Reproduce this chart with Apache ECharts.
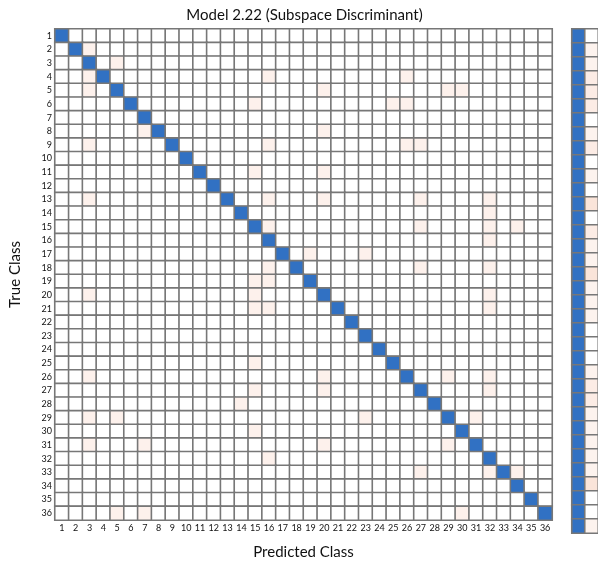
<!DOCTYPE html>
<html><head><meta charset="utf-8">
<script src="https://cdn.jsdelivr.net/npm/echarts@6/dist/echarts.min.js"></script>
<style>html,body{margin:0;padding:0;background:#fff}#c{width:598px;height:565px}</style>
</head><body><div id="c"></div>
<script>
// ---- data ----
const classLabels = ['1','2','3','4','5','6','7','8','9','10','11','12','13','14','15','16','17','18',
  '19','20','21','22','23','24','25','26','27','28','29','30','31','32','33','34','35','36'];
// correct predictions per class (diagonal)
const diagonalValues = [100,99,99,98,98,98,100,98,98,100,99,100,96,100,98,99,98,97,
  99,98,98,100,100,100,99,98,98,99,98,99,98,99,97,100,100,98];
// misclassified cells: [true class, predicted class, count]
const errorCells = [
  [2,3,1],[3,5,1],[4,3,1],[4,16,1],[4,26,1],[5,3,1],[5,20,1],[5,29,1],[5,30,1],
  [6,15,1],[6,25,1],[6,26,1],[8,7,1],[8,20,1],[9,3,1],[9,16,1],[9,26,1],[9,27,1],
  [11,15,1],[11,20,1],[13,3,1],[13,16,1],[13,20,1],[13,27,1],[13,32,1],[14,32,1],
  [15,16,1],[15,27,1],[15,32,1],[15,34,1],[16,32,1],[17,19,1],[17,23,1],
  [18,16,1],[18,27,1],[18,32,1],[19,15,1],[19,16,1],[20,3,1],[20,15,1],[20,32,1],
  [21,15,1],[21,16,1],[21,32,1],[25,15,1],[26,3,1],[26,20,1],[26,29,1],[26,32,1],
  [27,15,1],[27,20,1],[27,32,1],[28,14,1],[29,3,1],[29,5,1],[29,23,1],[29,31,1],
  [30,15,1],[31,3,1],[31,7,1],[31,20,1],[31,29,1],[32,16,1],
  [33,27,1],[33,32,1],[33,34,1],[36,5,1],[36,7,1],[36,30,1]
];
// per-class true positive rate and false negative rate (%)
const fnrValues = [0,1,1,2,2,2,0,1,2,0,1,0,4,0,2,1,1,3,1,1,1,0,0,0,1,2,2,1,1,1,1,1,3,0,0,1];
const tprValues = [100,99,99,98,98,98,100,99,98,100,99,100,96,100,98,99,99,97,99,99,99,100,100,100,99,98,98,99,99,99,99,99,97,100,100,99];
const summaryLabels = ['TPR','FNR'];

// ---- build series data ----
const n = classLabels.length;
const lookup = {};
errorCells.forEach(e => { lookup[(e[0]-1)+'_'+(e[1]-1)] = e[2]; });
const matrixData = [];
for (let r = 0; r < n; r++) {
  for (let c = 0; c < n; c++) {
    let v = r === c ? diagonalValues[r] : (lookup[r+'_'+c] || 0);
    matrixData.push([c, r, v]);
  }
}
const stripData = [];
for (let r = 0; r < n; r++) {
  stripData.push([0, r, tprValues[r]]);
  stripData.push([1, r, fnrValues[r]]);
}

const BLUE = '#3171c3';
const FONT = 'Lato';
const chart = echarts.init(document.getElementById('c'), null, {renderer: 'canvas'});
chart.setOption({
  animation: false,
  backgroundColor: '#ffffff',
  title: {
    text: 'Model 2.22 (Subspace Discriminant)',
    left: 299.5, top: 3, textAlign: 'center',
    textStyle: {fontFamily: FONT, fontSize: 15, fontWeight: 'normal', color: '#111'}
  },
  grid: [
    {left: 47, top: 29, width: 505, height: 504},
    {left: 572, top: 29, width: 29, height: 504}
  ],
  xAxis: [
    {type: 'category', gridIndex: 0, data: classLabels, position: 'bottom',
     name: 'Predicted Class', nameLocation: 'middle', nameGap: 25,
     nameTextStyle: {fontFamily: FONT, fontSize: 15, color: '#111'},
     axisLine: {show: false}, axisTick: {show: false}, splitLine: {show: false},
     axisLabel: {interval: 0, margin: 4, fontFamily: FONT, fontSize: 9, color: '#111'}},
    {type: 'category', gridIndex: 1, data: summaryLabels, show: false}
  ],
  yAxis: [
    {type: 'category', gridIndex: 0, data: classLabels, inverse: true,
     name: 'True Class', nameLocation: 'middle', nameGap: 32, nameRotate: 90,
     nameTextStyle: {fontFamily: FONT, fontSize: 15, color: '#111'},
     axisLine: {show: false}, axisTick: {show: false}, splitLine: {show: false},
     axisLabel: {interval: 0, margin: 3, fontFamily: FONT, fontSize: 9, color: '#111'}},
    {type: 'category', gridIndex: 1, data: classLabels, inverse: true, show: false}
  ],
  visualMap: [
    {type: 'piecewise', show: false, seriesIndex: 0, dimension: 2,
     pieces: [
       {min: 50, color: BLUE},
       {min: 0.5, max: 50, color: '#fdf1ec'},
       {max: 0.5, color: '#ffffff'}
     ]},
    {type: 'piecewise', show: false, seriesIndex: 1, dimension: 2,
     pieces: [
       {min: 50, color: BLUE},
       {min: 2.5, max: 50, color: '#fae4d9'},
       {min: 1.5, max: 2.5, color: '#fcece5'},
       {min: 0.5, max: 1.5, color: '#fdf3ee'},
       {max: 0.5, color: '#ffffff'}
     ]}
  ],
  series: [
    {type: 'heatmap', xAxisIndex: 0, yAxisIndex: 0, data: matrixData,
     itemStyle: {borderColor: '#777777', borderWidth: 1.6}, emphasis: {disabled: true}},
    {type: 'heatmap', xAxisIndex: 1, yAxisIndex: 1, data: stripData,
     itemStyle: {borderColor: '#777777', borderWidth: 1.6}, emphasis: {disabled: true}}
  ]
});
</script>
</body></html>
